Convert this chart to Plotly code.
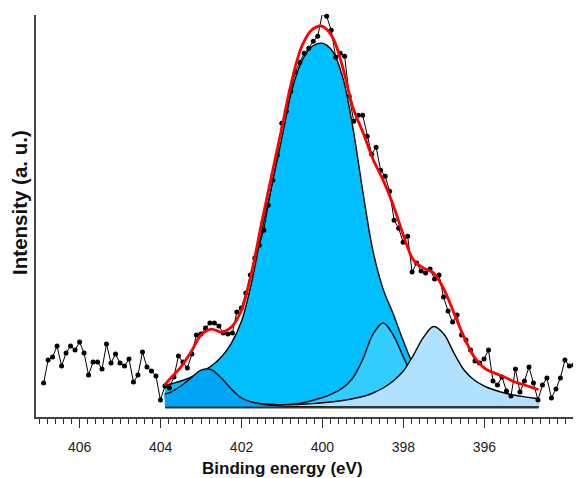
import plotly.graph_objects as go

# ---------------- data ----------------
BE_START = 406.892          # binding energy of first measured point (eV)
BE_STEP = 0.11107           # spectrometer step (eV)
COUNTS = [34, 57, 60, 71, 51, 64, 71, 67, 75, 64,
          42, 55, 55, 48, 73, 54, 63, 54, 51, 58,
          35, 42, 65, 50, 46, 41, 17, 31, 29, 40,
          61, 55, 49, 63, 82, 83, 89, 94, 94, 91,
          84, 83, 84, 105, 109, 124, 142, 159, 172, 187,
          212, 237, 262, 294, 306, 326, 345, 355, 364, 369,
          376, 381, 403, 401, 387, 360, 364, 361, 321, 296,
          302, 302, 281, 263, 270, 247, 241, 226, 197, 189,
          175, 181, 145, 154, 146, 144, 148, 138, 142, 120,
          106, 95, 102, 82, 77, 67, 56, 54, 58, 67,
          36, 32, 40, 26, 21, 48, 25, 36, 50, 34,
          17, 32, 39, 19, 28, 39, 57, 51, 52, 55]
BE = [round(BE_START - BE_STEP * i, 3) for i in range(len(COUNTS))]

FIT_BE = [403.9, 403.75, 403.5, 403.25, 403.0, 402.75, 402.5, 402.25, 402.0, 401.75,
          401.5, 401.25, 401.0, 400.75, 400.5, 400.25, 400.0, 399.75, 399.5, 399.25,
          399.0, 398.75, 398.5, 398.25, 398.0, 397.75, 397.5, 397.25, 397.0, 396.75,
          396.5, 396.25, 396.0, 395.75, 395.5, 395.25, 395.0, 394.75, 394.66]

PEAK_400 = [31, 33, 36, 40, 45, 51, 60, 74, 96, 135,
            186, 232, 280, 328, 357, 371, 374, 366, 340, 290,
            225, 166, 128, 103, 76, 52, 38, 30, 25, 22,
            20, 18, 17, 16, 15, 14.2, 13.5, 13.2, 13]
PEAK_403 = [23, 25, 31, 39, 47, 47.5, 39, 28, 19, 15,
            12.8, 11.6, 10.9, 10.5, 10.35, 10.25, 10.2, 10.15, 10.1, 10.1,
            10.1, 10.1, 10.1, 10.1, 10.1, 10.1, 10.1, 10.1, 10.1, 10.1,
            10.1, 10.1, 10.1, 10.1, 10.1, 10.1, 10.1, 10.1, 10.1]
PEAK_398_5 = [21, 20.7, 20.2, 19.5, 18.7, 17.8, 16.8, 15.8, 15, 14.3,
              13.2, 12.5, 12.2, 12.8, 14, 16.5, 19.5, 23.5, 29, 39,
              58, 83, 94, 82, 60, 40, 28, 21, 17, 15,
              13.5, 12.6, 12, 11.5, 11.2, 11, 10.8, 10.6, 10.6]
PEAK_397_3 = [20.3, 19.9, 19.3, 18.6, 17.8, 16.9, 15.9, 15, 14.2, 13.5,
              12.9, 12.5, 12.3, 12.4, 12.8, 13.4, 14.2, 15.3, 16.5, 18.3,
              20.5, 24, 29, 36, 46, 62, 80, 90.5, 83, 64,
              47, 37, 31, 27, 24, 21.8, 20.2, 18.7, 18.2]
ENVELOPE = [32, 39, 50, 65, 82, 88, 85, 90, 107, 145,
            195, 243, 290, 338, 372, 388, 391, 380, 350, 310,
            285, 258, 237, 212, 182, 157, 149, 144, 128, 104,
            80, 60, 49, 44, 40, 35, 32, 28.5, 27.3]

BASELINE = 9.5
FIT_LIMITS = [403.89, 394.66]

TICK_VALUES = [406, 404, 402, 400, 398, 396]
TICK_LABELS = ["406", "404", "402", "400", "398", "396"]

COMPONENTS = [  # drawing order, back to front
    (PEAK_400, "#00BFFF"),
    (PEAK_398_5, "#33CCFF"),
    (PEAK_397_3, "#B0E2FF"),
    (PEAK_403, "#00A6F4"),
]

# ---------------- figure ----------------
fig = go.Figure()

for values, colour in COMPONENTS:
    fig.add_trace(go.Scatter(x=FIT_LIMITS, y=[BASELINE, BASELINE], mode="lines",
                             line=dict(width=0, color=colour), hoverinfo="skip",
                             showlegend=False))
    fig.add_trace(go.Scatter(x=FIT_BE, y=values, mode="lines", fill="tonexty",
                             fillcolor=colour,
                             line=dict(color="black", width=1.4, shape="spline",
                                       smoothing=1.0),
                             showlegend=False))

fig.add_trace(go.Scatter(x=FIT_LIMITS, y=[BASELINE, BASELINE], mode="lines",
                         line=dict(color="#333333", width=2.2), showlegend=False))

fig.add_trace(go.Scatter(x=BE, y=COUNTS, mode="lines+markers",
                         line=dict(color="black", width=1),
                         marker=dict(color="black", size=5),
                         cliponaxis=False, showlegend=False))

fig.add_trace(go.Scatter(x=FIT_BE, y=ENVELOPE, mode="lines",
                         line=dict(color="#FF0000", width=2.8, shape="spline",
                                   smoothing=1.0),
                         showlegend=False))

# the page adds an 8 px body margin, so the figure is 8 px smaller on each axis
fig.update_layout(
    width=573, height=470,
    margin=dict(l=28, r=0, t=7, b=61),
    paper_bgcolor="white", plot_bgcolor="white",
    font=dict(family="Liberation Sans, Arial, sans-serif", color="#222222"),
    showlegend=False,
    annotations=[
        dict(text="<b>Binding energy (eV)</b>", xref="paper", yref="paper",
             x=0.4523, y=-0.127, xanchor="center", yanchor="middle",
             showarrow=False, font=dict(size=17, color="#111111")),
        dict(text="<b>Intensity (a. u.)</b>", xref="paper", yref="paper",
             x=-0.0294, y=0.535, xanchor="center", yanchor="middle",
             textangle=-90, showarrow=False, font=dict(size=20.5, color="#111111")),
    ],
)

fig.update_xaxes(
    range=[407.08, 393.61], autorange=False,
    tickmode="array", tickvals=TICK_VALUES, ticktext=TICK_LABELS,
    ticks="outside", ticklen=9, tickwidth=1, tickcolor="#333333",
    minor=dict(dtick=0.2, tick0=0, ticks="outside", ticklen=5,
               tickwidth=1, tickcolor="#333333", showgrid=False),
    showline=True, linecolor="#444444", linewidth=1.5,
    showgrid=False, zeroline=False,
    tickfont=dict(size=14, color="#222222"),
    ticklabelstandoff=7,
    automargin=False,
)

fig.update_yaxes(
    range=[0, 402.3], autorange=False,
    showticklabels=False, ticks="",
    showline=True, linecolor="#444444", linewidth=1.5,
    showgrid=False, zeroline=False,
    automargin=False,
)

fig.write_html("out.html")
